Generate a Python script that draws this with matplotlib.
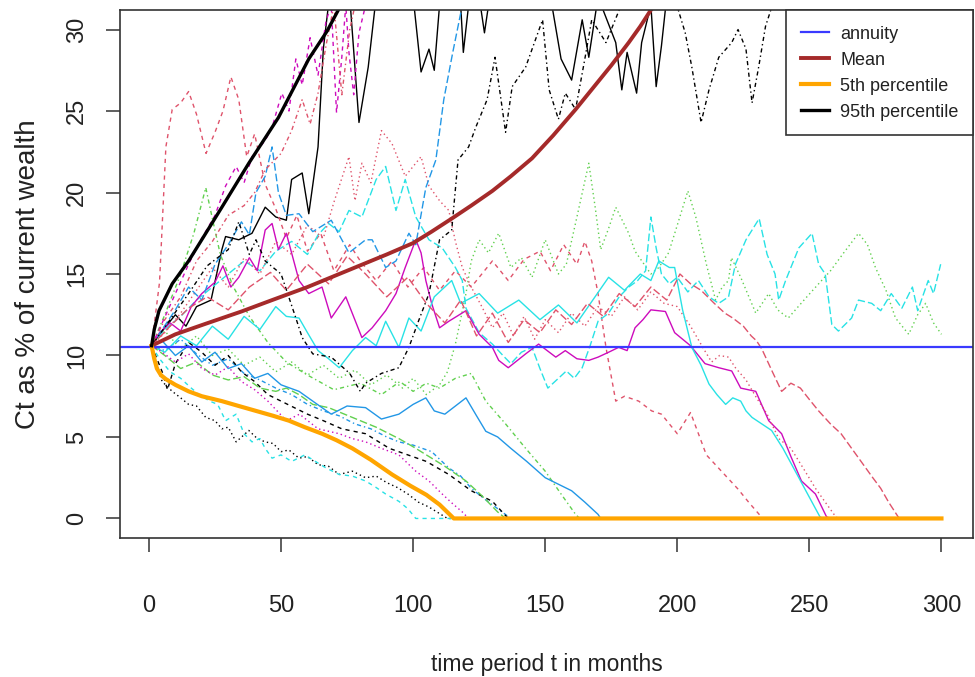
import matplotlib
matplotlib.use("Agg")
import matplotlib.pyplot as plt

plt.rcParams['font.family'] = ['Liberation Sans', 'DejaVu Sans']

# simulated paths (months, Ct as % of wealth)
t_blk_solid = [1, 5, 10, 14, 18, 23.5, 27.6, 29, 34, 39, 44, 48, 52, 54, 58, 60.5, 64, 66, 68, 72, 76, 79.5, 83, 86, 95, 100, 103, 106, 108, 110, 114, 118, 119, 121, 125, 127, 129, 140, 152, 156, 160, 164, 166.5, 170, 176.7, 179, 181, 184.6, 186.5, 190, 192, 194, 196, 220, 300]
v_blk_solid = [10.6, 11.5, 12.5, 11.8, 13.0, 13.4, 16.5, 17.3, 17.1, 17.5, 19.1, 18.5, 18.3, 20.8, 21.2, 18.7, 22.8, 28.8, 31.6, 32.5, 32.0, 24.3, 27.7, 32.0, 33, 32, 27.4, 28.8, 27.5, 31.5, 33, 31.5, 28.6, 31.5, 32, 29.8, 32, 33, 32, 28.2, 26.9, 30.6, 28.3, 32, 29.2, 26.3, 28.6, 26.1, 29.2, 31.5, 26.5, 29.0, 32, 35, 37]

t_red_dash = [1, 4, 6.4, 8.8, 12, 15, 18, 21.6, 25, 28, 31, 34, 37, 40, 44, 48, 52, 56, 60, 65, 70, 76, 80, 86, 92, 98, 104, 110, 116, 122, 130, 136, 142, 148, 152, 157, 162, 165, 167.6, 170, 173, 176.7, 180, 185.4, 190.3, 194, 200, 205, 211, 215, 219, 223, 227, 231, 232, 300]
v_red_dash = [10.6, 14.5, 22.8, 25.1, 25.5, 26.2, 24.8, 22.4, 23.7, 25.0, 27.1, 25.7, 22.2, 23.6, 20.5, 19.0, 17.2, 18.6, 16.4, 17.5, 15.2, 16.8, 15.8, 14.6, 15.8, 14.2, 15.4, 14.0, 15.2, 14.2, 15.8, 14.6, 15.9, 16.4, 15.2, 16.8, 15.6, 17.0, 15.8, 13.8, 10.5, 7.2, 7.5, 7.2, 6.6, 6.4, 5.2, 6.5, 3.9, 3.2, 2.5, 1.8, 1.0, 0.25, 0, 0]

t_grn_dot = [1, 6, 12, 18, 24, 30, 36, 42, 48, 54, 60, 66, 72, 78, 84, 90, 96, 100, 105, 110, 113, 116, 120, 122, 125, 128.5, 132.4, 137, 141, 145, 150, 155, 158, 162, 166.5, 169, 171, 174, 176.7, 181.6, 184, 190, 193, 196.7, 200, 204, 207, 211, 214.5, 217, 219.4, 220.5, 224, 229.7, 234.6, 238, 242, 248.5, 253.5, 258, 263, 268.6, 272, 275, 279, 282.6, 287.6, 291, 294, 297, 300]
v_grn_dot = [10.6, 11.5, 10.4, 11.2, 10.0, 10.4, 9.4, 9.9, 9.0, 9.6, 8.8, 9.4, 8.6, 9.1, 8.2, 8.8, 8.0, 8.6, 7.6, 8.2, 9.0, 10.7, 13.8, 15.8, 17.1, 16.3, 17.5, 15.4, 16.0, 14.8, 17.1, 15.0, 15.6, 18.5, 21.8, 19.0, 16.5, 17.8, 19.1, 17.5, 16.4, 15.0, 15.4, 16.3, 18.0, 20.1, 18.5, 15.6, 13.4, 14.2, 14.6, 16.0, 14.8, 12.6, 13.8, 12.8, 12.3, 13.5, 14.4, 15.2, 16.3, 17.5, 16.8, 15.4, 14.0, 12.3, 11.3, 12.5, 13.2, 12.0, 11.3]

t_blu_dotdash = [1, 6, 12, 18, 24, 30, 36, 42, 48, 54, 60, 66, 72, 78, 84, 90, 94.6, 100, 107, 113.5, 118, 122, 127, 132, 137, 300]
v_blu_dotdash = [10.6, 10.3, 11.0, 10.1, 9.4, 9.8, 8.9, 8.5, 8.0, 7.6, 7.0, 6.6, 6.3, 5.8, 5.5, 5.0, 4.7, 4.5, 4.1, 3.1, 2.6, 1.85, 1.2, 0.6, 0, 0]

t_cyn_long = [1, 6, 12, 18, 24, 30, 36, 42, 48, 54, 60, 64, 68, 72, 75.7, 80.6, 86, 89.6, 93.5, 97, 101, 106, 111, 116, 118.6, 120, 125, 130, 134, 137, 141, 145, 148, 151, 155, 158, 161, 164, 167, 170, 174, 178, 181.6, 185, 188, 190, 192, 194, 197, 200, 204, 208, 212, 215.7, 219.4, 222, 226, 231, 234, 237, 238.4, 241, 246, 251, 253.5, 256, 258.5, 261, 266, 268.6, 273.6, 277, 281, 285, 289, 291, 295, 297, 299.7]
v_cyn_long = [10.6, 11.6, 12.4, 13.4, 14.2, 15.0, 15.8, 15.2, 16.4, 17.0, 16.2, 17.4, 18.1, 17.6, 18.9, 18.5, 20.8, 21.6, 18.9, 20.8, 18.5, 17.1, 16.6, 15.4, 14.6, 12.9, 11.4, 10.7, 10.0, 9.5, 10.2, 10.5, 9.2, 8.0, 8.6, 9.05, 8.6, 9.25, 10.6, 12.1, 12.6, 13.6, 14.2, 14.6, 15.2, 18.5, 16.6, 15.0, 14.4, 14.8, 13.9, 14.6, 13.6, 13.2, 13.6, 15.6, 17.1, 18.4, 16.2, 15.0, 13.4, 14.6, 16.6, 17.5, 15.6, 15.0, 11.9, 11.5, 12.3, 13.4, 13.2, 12.75, 13.8, 12.9, 14.2, 12.75, 14.6, 13.8, 15.6]

t_mag_solid = [1, 4, 8, 12, 16, 20, 25, 28, 31, 34, 38, 41, 44, 46.6, 49, 52, 56.8, 60.5, 65.5, 69, 74.5, 80.6, 84.5, 89.6, 93.5, 97, 101, 103, 104.8, 107, 110, 113.5, 120, 125, 130, 132.4, 136, 142.6, 147.5, 154, 157.6, 162, 166.5, 170, 174, 177.8, 181, 184, 187, 190, 195.5, 199, 205, 210.5, 215.7, 220.6, 224, 229.7, 234.6, 239.5, 243, 247, 252.3, 256.5, 258, 300]
v_mag_solid = [10.6, 11.4, 12.0, 11.5, 13.0, 13.8, 14.5, 15.5, 14.2, 14.8, 16.0, 15.2, 17.7, 18.1, 16.5, 17.5, 14.6, 13.8, 14.2, 12.3, 13.6, 11.1, 11.7, 12.75, 13.8, 15.4, 17.1, 16.3, 14.6, 13.2, 11.7, 12.1, 12.75, 11.3, 10.5, 9.7, 9.25, 10.1, 10.7, 9.9, 10.3, 9.8, 9.7, 9.9, 10.2, 10.5, 10.3, 11.7, 12.2, 12.8, 12.7, 11.4, 10.6, 9.5, 9.25, 9.05, 8.0, 7.8, 6.0, 5.2, 3.8, 2.3, 1.5, 0.1, 0, 0]

t_blk_dash = [1, 5, 7, 10, 15, 20, 25, 30, 35, 40, 45, 50, 55, 60, 66, 73, 82, 91, 98, 105, 113.5, 122, 130, 136, 300]
v_blk_dash = [10.6, 9.0, 7.9, 9.5, 10.8, 10.2, 9.4, 10.0, 9.0, 8.4, 7.6, 7.2, 6.8, 6.4, 6.0, 5.5, 5.2, 4.3, 3.9, 3.5, 2.7, 1.7, 1.05, 0, 0]

t_red_dot = [1, 6, 12, 18, 24, 30, 36, 42, 48, 54, 60, 66, 70, 75.7, 78, 80.6, 84, 88, 92, 97, 100, 103, 106, 110, 113.5, 116, 118.6, 122, 126, 130, 134, 138, 142, 146, 150, 155, 160, 165, 170, 175, 180, 185, 190, 195, 200, 205, 210, 213, 216, 219.4, 222, 226, 230, 234, 238.4, 243, 248, 252.3, 256, 260, 261, 300]
v_red_dot = [10.6, 11.4, 12.6, 14.0, 15.4, 14.2, 16.0, 15.0, 17.0, 16.2, 18.0, 17.2, 19.4, 22.2, 19.5, 21.8, 20.6, 23.8, 23.0, 21.0, 21.6, 22.2, 20.4, 19.5, 18.9, 17.0, 15.4, 14.2, 13.0, 11.7, 12.6, 11.2, 12.4, 11.0, 12.2, 11.4, 12.6, 11.8, 13.0, 12.4, 13.6, 12.8, 13.9, 13.2, 13.0, 11.8, 10.4, 9.6, 10.0, 9.9, 9.25, 8.5, 7.4, 6.4, 4.9, 4.3, 3.0, 1.85, 1.0, 0.1, 0, 0]

t_grn_dotdash = [1, 6, 12, 17, 21.5, 24, 27, 32, 38, 45, 52, 60, 70, 80, 88, 95, 100, 105, 110, 116, 122, 127.5, 135, 142.6, 150, 156, 161.5, 163, 300]
v_grn_dotdash = [10.6, 12.5, 15.0, 17.5, 20.3, 18.4, 16.2, 14.2, 12.4, 10.8, 9.6, 8.8, 7.9, 8.3, 7.6, 8.4, 7.8, 8.3, 8.0, 8.6, 8.9, 7.2, 5.8, 4.3, 2.9, 1.5, 0.25, 0, 0]

t_blu_long = [1, 5, 10, 15, 20, 25, 30, 35, 38, 40.5, 44, 46.6, 49, 52, 56.8, 62, 69, 75.7, 82, 84.5, 89.6, 93.5, 98.4, 101, 104.8, 108.6, 111.6, 115, 118, 121, 140, 300]
v_blu_long = [10.6, 11.6, 12.8, 14.2, 13.4, 15.6, 16.8, 18.2, 17.4, 20.0, 21.0, 22.8, 20.0, 18.6, 18.7, 17.6, 18.3, 16.3, 17.1, 17.1, 15.4, 15.8, 17.5, 16.8, 20.3, 22.0, 25.7, 28.6, 31.0, 33, 35, 40]

t_cyn_solid = [1, 6, 12, 18, 24, 30, 36, 42, 48, 52, 56.8, 60, 64, 68, 72, 77, 82, 86, 89.6, 94.6, 98.4, 103, 108, 114.6, 118, 125, 132, 140, 148, 155, 162, 168, 174, 180, 186, 190, 193, 197, 199, 202, 205.5, 209, 212, 215, 218.3, 221, 224, 226, 228.3, 232, 235.7, 240, 243, 246, 250, 254, 255, 300]
v_cyn_solid = [10.6, 10.2, 11.2, 10.6, 11.8, 11.0, 12.4, 11.6, 13.0, 12.4, 12.3, 11.4, 10.3, 9.8, 9.25, 10.3, 11.1, 10.6, 12.1, 10.5, 12.3, 11.5, 13.6, 14.6, 13.2, 13.8, 12.6, 13.4, 12.2, 13.1, 12.0, 13.4, 14.8, 14.0, 15.0, 14.6, 15.8, 15.4, 15.4, 12.8, 10.5, 9.4, 8.25, 7.6, 7.0, 7.4, 7.2, 6.6, 6.2, 5.8, 5.4, 4.3, 3.4, 2.5, 1.3, 0.1, 0, 0]

t_mag_dash = [1, 5, 10, 15, 20, 25, 29, 33, 36, 39, 44, 46.6, 50.3, 53, 55.6, 58, 61, 64, 67, 69, 71, 73, 74.5, 75.7, 77.5, 79.5, 82, 85, 100, 300]
v_mag_dash = [10.6, 12.0, 13.8, 15.6, 17.2, 18.6, 20.4, 21.6, 20.6, 22.2, 23.2, 24.0, 26.1, 25.0, 28.2, 26.6, 29.5, 27.2, 30.5, 31.5, 24.9, 28.3, 31.5, 28.6, 26.0, 29.8, 31.5, 33, 35, 40]

t_blk_dot = [1, 3, 5, 8.8, 12, 15, 18, 21.5, 25, 27.6, 30, 33, 37.8, 41, 44, 47, 50, 53, 56.8, 60, 64, 68, 72, 77, 82, 86, 90, 94, 98, 102, 106, 110, 113, 300]
v_blk_dot = [10.6, 9.4, 8.4, 7.8, 7.4, 7.0, 6.9, 6.2, 6.0, 5.5, 5.6, 4.7, 5.4, 4.9, 4.7, 4.6, 4.1, 4.2, 3.7, 3.8, 3.3, 3.2, 2.7, 2.9, 2.5, 2.6, 2.2, 1.9, 1.5, 1.0, 0.7, 0.3, 0, 0]

t_red_dotdash = [1, 6, 12, 18, 24, 30, 36, 40, 44, 50, 54, 58, 61, 64, 67, 70, 73, 76, 80, 100, 300]
v_red_dotdash = [10.6, 12.2, 13.6, 15.8, 17.0, 18.6, 19.2, 20.0, 21.4, 22.4, 23.8, 25.7, 24.2, 26.1, 29.0, 31.5, 26.0, 30.0, 33, 35, 40]

t_grn_long = [1, 6, 12, 18, 24, 30, 36, 42, 48, 52, 56.8, 62, 68, 74, 80, 86, 94.6, 100, 106, 112, 120, 126, 132, 135, 300]
v_grn_long = [10.6, 10.0, 9.2, 9.6, 8.8, 8.5, 8.7, 8.0, 7.8, 8.0, 7.6, 7.0, 6.8, 6.4, 6.0, 5.6, 4.9, 4.4, 3.8, 3.2, 2.3, 1.4, 0.4, 0, 0]

t_blu_solid = [1, 5, 10, 15, 20, 25, 30, 35, 40, 45, 50, 56.8, 62, 69, 75, 82, 88, 94.6, 100, 104.8, 108, 112, 116, 120, 124, 127.5, 132, 137, 143, 150, 155, 160, 165, 170, 171, 300]
v_blu_solid = [10.6, 10.9, 10.0, 10.6, 9.6, 10.2, 9.2, 9.5, 8.6, 8.9, 8.2, 7.8, 7.2, 6.4, 6.9, 6.8, 6.1, 6.4, 7.0, 7.4, 6.6, 6.4, 6.9, 7.4, 6.3, 5.35, 5.0, 4.3, 3.5, 2.5, 2.1, 1.7, 1.0, 0.25, 0, 0]

t_cyn_dash = [1, 4, 8, 12, 16, 19, 23, 26, 29, 33, 36, 39, 42, 44, 46.6, 50, 54, 59, 63, 67, 72, 77, 82, 86, 89.6, 94.6, 98, 101, 300]
v_cyn_dash = [10.6, 9.8, 9.0, 8.6, 8.0, 7.6, 7.2, 7.0, 6.0, 6.4, 5.2, 4.7, 4.9, 4.3, 3.7, 3.9, 3.5, 3.9, 3.5, 3.1, 2.7, 2.6, 2.3, 1.9, 1.5, 1.05, 0.6, 0, 0]

t_mag_dot = [1, 5, 10, 15, 20, 25, 30, 35, 40, 45, 52, 57, 64, 72, 77, 82, 88, 94.6, 101, 106, 111, 115, 118.6, 121, 300]
v_mag_dot = [10.6, 10.2, 9.6, 10.1, 9.2, 8.8, 9.3, 8.4, 7.9, 7.2, 6.0, 6.4, 5.5, 5.2, 4.9, 4.7, 4.3, 3.9, 2.9, 2.3, 1.5, 0.9, 0.4, 0, 0]

t_blk_dotdash = [1, 8, 15, 22, 30, 34, 38, 40.5, 44, 50, 55.6, 58, 62, 69, 76, 80, 82, 88, 94.6, 98.4, 102, 106, 110, 114.6, 117, 121, 123.7, 128, 131, 135, 137.5, 142.6, 149, 151.5, 155, 157.6, 161.5, 165, 167.6, 173, 180, 197, 203, 205.5, 209, 212, 215.7, 220.6, 223, 226, 228.3, 230.8, 233.4, 237, 250, 300]
v_blk_dotdash = [10.6, 12.2, 13.8, 15.5, 16.5, 18.2, 16.2, 17.1, 15.8, 15.0, 12.3, 11.1, 10.1, 9.9, 8.9, 7.8, 8.3, 8.9, 9.25, 10.5, 12.1, 13.8, 17.1, 17.7, 22.0, 22.8, 24.0, 25.7, 28.3, 23.7, 26.5, 27.7, 30.6, 26.3, 24.5, 26.1, 25.1, 28.2, 30.6, 29.2, 32, 33, 29.8, 27.7, 24.3, 26.3, 28.3, 29.2, 30.0, 28.8, 25.5, 27.7, 30.2, 32, 34, 36]

t_red_long = [1, 8, 15, 22, 30, 38, 46, 52, 60, 68, 75, 82, 90, 98, 105, 112, 118, 124, 130, 136, 142, 148, 154, 160, 166, 172, 178, 184, 190, 196, 201, 205, 209, 214, 218, 221, 225, 228, 230, 232, 236, 239.5, 243, 246.6, 250, 253.5, 258, 262, 266, 270, 274, 277, 280, 283, 284, 300]
v_red_long = [10.6, 11.8, 12.9, 13.6, 12.8, 14.2, 15.1, 14.0, 15.6, 14.4, 16.1, 15.0, 13.6, 14.8, 13.2, 12.0, 13.4, 11.2, 12.6, 10.8, 12.2, 11.4, 12.8, 11.9, 13.2, 12.4, 13.8, 13.0, 14.2, 13.4, 15.0, 14.4, 14.0, 13.2, 12.6, 12.3, 11.8, 11.2, 10.9, 10.4, 9.0, 7.8, 8.3, 8.0, 7.3, 6.6, 5.8, 5.2, 4.3, 3.4, 2.5, 1.85, 1.0, 0.25, 0, 0]

# summary lines
annuity = 10.55
t_mean = [1, 10, 21.5, 35, 46.6, 60, 79.5, 90, 100, 107, 114.6, 122, 130, 137, 145, 153, 161.5, 168, 175, 181.6, 186, 190, 200, 300]
v_mean = [10.6, 11.3, 11.95, 12.7, 13.4, 14.2, 15.5, 16.2, 16.9, 17.6, 18.4, 19.2, 20.1, 21.0, 22.1, 23.5, 25.1, 26.4, 27.8, 29.2, 30.2, 31.2, 33.6, 70]
t_p5 = [1, 2, 3, 4.5, 6.4, 10, 15, 20, 27.6, 34, 40.5, 47, 53, 59, 65.5, 71, 77, 84, 92, 99, 105, 110, 115.4, 300]
v_p5 = [10.6, 9.8, 9.2, 8.8, 8.55, 8.2, 7.8, 7.5, 7.2, 6.9, 6.6, 6.3, 6.0, 5.6, 5.2, 4.8, 4.3, 3.6, 2.7, 2.0, 1.45, 0.85, 0, 0]
t_p95 = [1, 2, 3.8, 8.8, 15, 21.5, 27.6, 37.8, 49, 60.5, 67.4, 72, 80, 300]
v_p95 = [10.6, 11.6, 12.75, 14.4, 15.8, 17.5, 19.1, 21.8, 24.6, 28.2, 29.9, 31.3, 33.6, 90]

legend_labels = ['annuity', 'Mean', '5th percentile', '95th percentile']

# R palette and line types (matplot cycles col 1:6, lty 1:5)
pal = ['black', '#DF536B', '#61D04F', '#2297E6', '#28E2E5', '#CD0BBC']
ltys = ['-', (0, (3, 3)), (0, (1, 2.2)), (0, (1, 2.2, 3, 2.2)), (0, (5.5, 2.2))]

paths = [(t_blk_solid, v_blk_solid), (t_red_dash, v_red_dash), (t_grn_dot, v_grn_dot),
         (t_blu_dotdash, v_blu_dotdash), (t_cyn_long, v_cyn_long), (t_mag_solid, v_mag_solid),
         (t_blk_dash, v_blk_dash), (t_red_dot, v_red_dot), (t_grn_dotdash, v_grn_dotdash),
         (t_blu_long, v_blu_long), (t_cyn_solid, v_cyn_solid), (t_mag_dash, v_mag_dash),
         (t_blk_dot, v_blk_dot), (t_red_dotdash, v_red_dotdash), (t_grn_long, v_grn_long),
         (t_blu_solid, v_blu_solid), (t_cyn_dash, v_cyn_dash), (t_mag_dot, v_mag_dot),
         (t_blk_dotdash, v_blk_dotdash), (t_red_long, v_red_long)]

fig = plt.figure(figsize=(9.75, 6.77), dpi=100)
ax = fig.add_axes([0.1231, 0.2053, 0.8749, 0.7799])

for j, (t, v) in enumerate(paths):
    ax.plot(t, v, color=pal[j % 6], linestyle=ltys[j % 5], lw=1.0)

ax.axhline(annuity, color='#3A3AFF', lw=1.6)
ax.plot(t_mean, v_mean, color='#A52A2A', lw=2.8)
ax.plot(t_p5, v_p5, color='#FFA500', lw=3.0)
ax.plot(t_p95, v_p95, color='black', lw=2.4)

ax.set_xlim(-10.96, 311.96)
ax.set_ylim(-1.2, 31.2)
ax.set_xticks([0, 50, 100, 150, 200, 250, 300])
ax.set_yticks([0, 5, 10, 15, 20, 25, 30])
for s in ax.spines.values():
    s.set_color('#333333')
    s.set_linewidth(1.2)
ax.tick_params(axis='both', length=10, width=1.1, color='#333333', labelsize=17, labelcolor='#222222')
ax.tick_params(axis='x', pad=31)
ax.tick_params(axis='y', pad=13)
for lab in ax.get_yticklabels():
    lab.set_rotation(90)
    lab.set_va('center')

ax.set_xlabel('time period t in months', fontsize=16.5, color='#222222', labelpad=26)
ax.set_ylabel('Ct as % of current wealth', fontsize=20, color='#222222', labelpad=18)

h = [plt.Line2D([], [], color='#3A3AFF', lw=1.6),
     plt.Line2D([], [], color='#A52A2A', lw=2.8),
     plt.Line2D([], [], color='#FFA500', lw=3.0),
     plt.Line2D([], [], color='black', lw=2.4)]
leg = ax.legend(h, legend_labels, loc='upper right', bbox_to_anchor=(1.0, 1.0), borderaxespad=0,
                fontsize=13, frameon=True, fancybox=False, edgecolor='#333333', framealpha=1,
                handlelength=1.6, handleheight=1.0, handletextpad=0.6, labelspacing=0.43,
                borderpad=0.8)
leg.get_frame().set_linewidth(1.2)
for txt in leg.get_texts():
    txt.set_color('#222222')

fig.savefig('out.png', dpi=100)
